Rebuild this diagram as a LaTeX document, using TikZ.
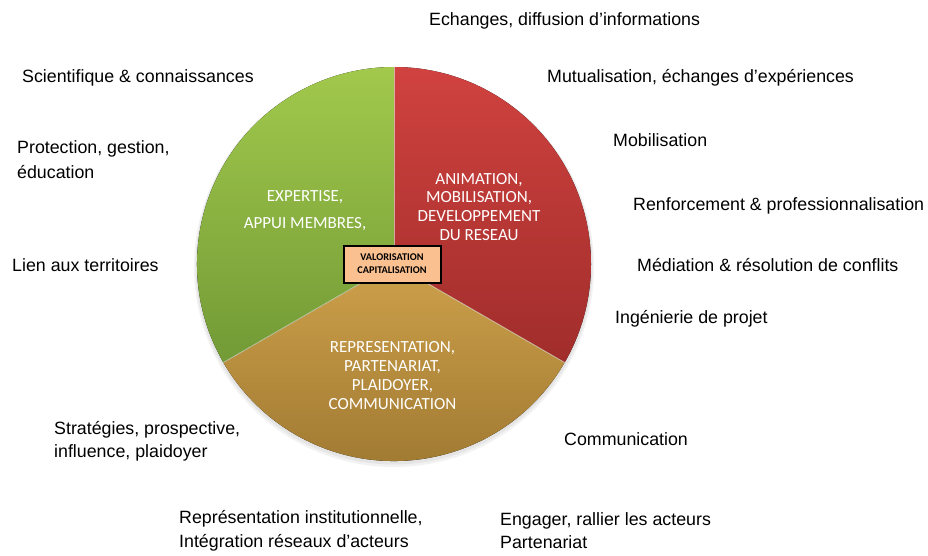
\documentclass[tikz,border=0pt]{standalone}
\usepackage{fontspec}
\setmainfont{Liberation Sans}
\newfontfamily\calfont{Carlito}
\definecolor{redtop}{HTML}{D0423F}
\definecolor{redbot}{HTML}{A02D2B}
\definecolor{greentop}{HTML}{A2C94C}
\definecolor{greenbot}{HTML}{729A36}
\definecolor{yeltop}{HTML}{CDA04A}
\definecolor{yelbot}{HTML}{9C7630}
\definecolor{boxfill}{HTML}{FAC090}
\begin{document}
\begin{tikzpicture}[x=1pt,y=-1pt,
  lab/.style={anchor=base west, inner sep=0pt, font=\fontsize{17.8}{22}\selectfont, text=black},
  inlab/.style={anchor=base, inner sep=0pt, font=\calfont\fontsize{17}{19}\selectfont, text=white},
  sep/.style={white, line width=0.8pt, opacity=0.55}
  ]
\useasboundingbox (0,0) rectangle (928,555);
\fill[white] (0,0) rectangle (928,555);
\coordinate (C) at (394,264);
\def\R{197}
% soft shadow
\fill[black, opacity=0.05] (394,267) circle[radius=200];
\fill[black, opacity=0.05] (394,266) circle[radius=198.5];
% sectors
\fill[top color=redtop, bottom color=redbot] (C) -- ++(-90:\R) arc[start angle=-90, end angle=30, radius=\R] -- cycle;
\fill[top color=yeltop, bottom color=yelbot] (C) -- ++(30:\R) arc[start angle=30, end angle=150, radius=\R] -- cycle;
\fill[top color=greentop, bottom color=greenbot] (C) -- ++(150:\R) arc[start angle=150, end angle=270, radius=\R] -- cycle;
\draw[sep] (C) -- ++(-90:\R) coordinate (t1);
\draw[sep] (C) -- ++(30:\R) coordinate (t2);
\draw[sep] (C) -- ++(150:\R) coordinate (t3);
% inner texts
\node[inlab] (e1) at (305,201.7) {EXPERTISE,};
\node[inlab] (e2) at (305,228.3) {APPUI MEMBRES,};
\node[inlab] (a1) at (479,184) {ANIMATION,};
\node[inlab] (a2) at (479,202.5) {MOBILISATION,};
\node[inlab] (a3) at (479,221.2) {DEVELOPPEMENT};
\node[inlab] (a4) at (479,240) {DU RESEAU};
\node[inlab] (r1) at (392.5,352.7) {REPRESENTATION,};
\node[inlab] (r2) at (392.5,371.6) {PARTENARIAT,};
\node[inlab] (r3) at (392.5,390.5) {PLAIDOYER,};
\node[inlab] (r4) at (392.5,409.3) {COMMUNICATION};
% central box
\node[draw=black, line width=2pt, fill=boxfill, minimum width=97pt, minimum height=37pt, inner sep=0pt,
      align=center, font=\calfont\bfseries\fontsize{10.3}{13.3}\selectfont] (box) at (392,264)
      {VALORISATION\\CAPITALISATION};
% outer labels
\node[lab] (l1) at (429,25.5) {Echanges, diffusion d’informations};
\node[lab] (l2) at (547,82) {Mutualisation, échanges d’expériences};
\node[lab] (l3) at (22,82) {Scientifique \& connaissances};
\node[lab] (l4) at (613,146) {Mobilisation};
\node[lab] (l5a) at (17,153.5) {Protection, gestion,};
\node[lab] (l5b) at (17,178.5) {éducation};
\node[lab] (l6) at (633,210) {Renforcement \& professionnalisation};
\node[lab] (l7) at (637,271.5) {Médiation \& résolution de conflits};
\node[lab] (l8) at (12,271) {Lien aux territoires};
\node[lab] (l9) at (615,323) {Ingénierie de projet};
\node[lab] (l10a) at (54,434) {Stratégies, prospective,};
\node[lab] (l10b) at (54,457.5) {influence, plaidoyer};
\node[lab] (l11) at (564,445) {Communication};
\node[lab] (l12a) at (179,523.5) {Représentation institutionnelle,};
\node[lab] (l12b) at (179,547) {Intégration réseaux d’acteurs};
\node[lab] (l13a) at (500,525) {Engager, rallier les acteurs};
\node[lab] (l13b) at (500,548) {Partenariat};
\end{tikzpicture}
\end{document}
